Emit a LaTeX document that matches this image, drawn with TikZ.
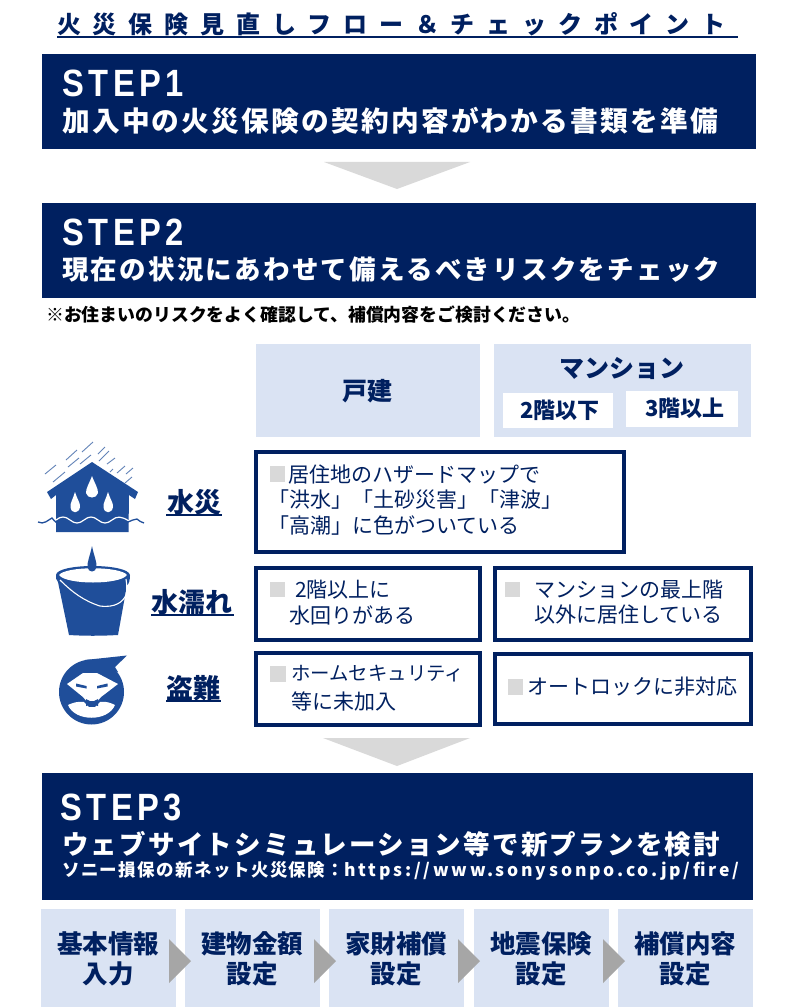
\documentclass[tikz,border=0pt]{standalone}
\usepackage{fontspec}
\setmainfont{Noto Sans CJK JP}
\newfontfamily\stepfont[FakeStretch=0.86]{Liberation Sans Bold}
\definecolor{navy}{HTML}{002060}
\definecolor{lblue}{HTML}{DAE3F3}
\definecolor{icon}{HTML}{1F4E9A}
\definecolor{arrgray}{HTML}{D9D9D9}
\definecolor{chevgray}{HTML}{A6A6A6}
\tikzset{
 banner/.style={fill=navy,draw=none},
 headbox/.style={fill=lblue,draw=none},
 whitebox/.style={fill=white,draw=none},
 checkbox/.style={draw=navy,line width=4pt,fill=white},
 tick/.style={fill=arrgray,draw=none},
 btxt/.style={text=white,anchor=west,inner sep=0pt,font=\bfseries},
 ntxt/.style={text=navy,anchor=west,inner sep=0pt},
 ctxt/.style={text=navy,anchor=center,inner sep=0pt,font=\bfseries},
 uline/.style={draw=navy,line width=2pt},
 iconfill/.style={fill=icon,draw=none},
 flowbox/.style={fill=lblue,draw=none},
 rain/.style={draw=icon!70,line width=0.9pt},
}
\newcommand{\sz}[1]{\fontsize{#1}{#1}\selectfont}
\newcommand{\tg}{\hspace{11.8pt}}
\begin{document}
\begin{tikzpicture}[x=1pt,y=-1pt]
\useasboundingbox (0,0) rectangle (793,1008);
\fill[white] (0,0) rectangle (793,1008);
% title
\node[ntxt,font=\bfseries\sz{24}] (title) at (57,24) {火\tg 災\tg 保\tg 険\tg 見\tg 直\tg し\tg フ\tg ロ\tg ー\tg ＆\tg チ\tg ェ\tg ッ\tg ク\tg ポ\tg イ\tg ン\tg ト};
\coordinate (tl) at (57,37); \coordinate (tr) at (738,37);
\draw[uline] (tl) -- (tr);
% step1
\fill[banner] (42,54) rectangle (756,149);
\node[btxt,font=\stepfont\sz{38}] (s1) at (62,83) {\addfontfeature{LetterSpace=12}STEP1};
\node[btxt,font=\bfseries\sz{27.7}] (s1b) at (62,121) {\addfontfeature{LetterSpace=8}加入中の火災保険の契約内容がわかる書類を準備};
\fill[arrgray] (324,162) -- (470,162) -- (397,189) -- cycle;
% step2
\fill[banner] (42,203) rectangle (756,298);
\node[btxt,font=\stepfont\sz{38}] (s2) at (62,232) {\addfontfeature{LetterSpace=12}STEP2};
\node[btxt,font=\bfseries\sz{26.5}] (s2b) at (62,270) {\addfontfeature{LetterSpace=8.5}現在の状況にあわせて備えるべきリスクをチェック};
\node[anchor=west,inner sep=0pt,text=black,font=\bfseries\sz{17.85}] (note) at (46,315) {※お住まいのリスクをよく確認して、補償内容をご検討ください。};
% heads
\fill[headbox] (256,344) rectangle (480,437);
\node[ctxt,font=\bfseries\sz{25}] (h1) at (367,391) {戸建};
\fill[headbox] (494,344) rectangle (751,437);
\node[ctxt,font=\bfseries\sz{25}] (h2) at (622,368) {マンション};
\fill[whitebox] (503,393) rectangle (613,428);
\node[ctxt,font=\bfseries\sz{22}] (h3) at (560,410) {2階以下};
\fill[whitebox] (626,391) rectangle (738,427);
\node[ctxt,font=\bfseries\sz{22}] (h4) at (685,408) {3階以上};
% boxes
\draw[checkbox] (256,451.5) rectangle (624,551.5);
\fill[tick] (270,466) rectangle (285,482);
\node[ntxt,font=\sz{21}] at (288,474.5) {居住地のハザードマップで};
\node[ntxt,font=\sz{21}] at (268,500) {「洪水」「土砂災害」「津波」};
\node[ntxt,font=\sz{21}] at (268,526) {「高潮」に色がついている};
\draw[checkbox] (256,568) rectangle (480,640);
\fill[tick] (270,582) rectangle (285,597);
\node[ntxt,font=\sz{21}] at (295,590) {2階以上に};
\node[ntxt,font=\sz{21}] at (289,615) {水回りがある};
\draw[checkbox] (495,568) rectangle (751,640);
\fill[tick] (505,582) rectangle (520,597);
\node[ntxt,font=\sz{21}] at (534,590) {マンションの最上階};
\node[ntxt,font=\sz{21}] at (534,615) {以外に居住している};
\draw[checkbox] (256,653) rectangle (480,725);
\fill[tick] (270,666) rectangle (286,682);
\node[ntxt,font=\sz{19.4}] at (291,674) {ホームセキュリティ};
\node[ntxt,font=\sz{21}] at (291,701) {等に未加入};
\draw[checkbox] (495,654) rectangle (751,724);
\fill[tick] (508,679) rectangle (523,695);
\node[ntxt,font=\sz{21}] at (527,687) {オートロックに非対応};
% labels
\node[ctxt,font=\bfseries\sz{27}] (l1) at (194,502) {水災};
\draw[uline] (166,515) -- (222,515);
\node[ctxt,font=\bfseries\sz{27}] (l2) at (192,602) {水濡れ};
\draw[uline] (151,615) -- (234,615);
\node[ctxt,font=\bfseries\sz{27}] (l3) at (193,688) {盗難};
\draw[uline] (166,701) -- (221,701);
% house icon
\draw[rain] (45,474)--(56,465) (53,482)--(65,472) (66,460)--(77,450) (68,467)--(79,458) (82,452)--(93,442) (80,464)--(91,455) (98,454)--(105,447) (99,461)--(109,451) (107,464)--(115,458) (117,473)--(125,466) (126,474)--(133,468) (110,472)--(113,469) (125,483)--(132,477);
\fill[iconfill] (92,462) -- (138,492) -- (135,499) -- (129,495) -- (128.5,532) -- (56,532) -- (56,495) -- (51,499) -- (47,492) -- cycle;
\draw[white,line width=1.2pt] (56,520) .. controls (61,516) and (65,516) .. (70,520) .. controls (75,524) and (79,524) .. (84,520) .. controls (89,516) and (93,516) .. (98,520) .. controls (103,524) and (107,524) .. (112,520) .. controls (117,516) and (121,516) .. (129,521);
\draw[icon,line width=1.3pt] (38,522) .. controls (44,525) and (48,520) .. (52,518) .. controls (53,519) and (55,522) .. (57,523);
\draw[icon,line width=1.3pt] (128,522) .. controls (131,521) and (134,519) .. (137,519) .. controls (139,520) and (141,523) .. (144,523);
\fill[white] (92,476) .. controls (89,484) and (86,488) .. (86,493) .. controls (87,499) and (97,499) .. (98,493) .. controls (98,488) and (95,484) .. (92,476) -- cycle;
\fill[white] (75,492) .. controls (73,499) and (70,503) .. (70.5,507) .. controls (71,514) and (79,514) .. (80,507) .. controls (80.5,503) and (77,499) .. (75,492) -- cycle;
\fill[white] (108,492) .. controls (106,499) and (103,503) .. (103.5,507) .. controls (104,514) and (112,514) .. (113,507) .. controls (113.5,503) and (110,499) .. (108,492) -- cycle;
% bucket icon
\fill[iconfill] (56,575) .. controls (57,563) and (128,563) .. (130,575) .. controls (130,580) and (129,584) .. (127,585) -- (118,635) .. controls (100,636) and (85,636) .. (69,635) -- (58,582) .. controls (56,580) and (56,578) .. (56,575) -- cycle;
\fill[white] (59,575) .. controls (66,566) and (120,566) .. (127,575) .. controls (120,585) and (66,585) .. (59,575) -- cycle;
\fill[iconfill] (92,546) .. controls (90,556) and (87,562) .. (87.5,567) .. controls (88,573) and (96,573) .. (96.5,567) .. controls (97,562) and (94,556) .. (92,546) -- cycle;
\draw[white,line width=1.1pt] (60,580) .. controls (72,592) and (84,601) .. (100,606) .. controls (115,608) and (123,602) .. (126,595) .. controls (127,590) and (127,585) .. (126,579);
% thief icon
\fill[iconfill] (91.5,692) circle (32.5);
\fill[iconfill] (85,660) -- (127,655.5) -- (115,667) -- (118,672) -- (105,668) -- cycle;
\fill[white] (67,684) -- (83,673) -- (97,673) -- (118,684) -- (101,697) -- (98,700.5) -- (92,701) -- (86,700.5) -- (83,697) -- cycle;
\fill[white] (68,705) .. controls (72,703) and (78,701) .. (84,702) -- (89,707) -- (95,707) -- (100,702) .. controls (106,701) and (111,703) .. (115,705) .. controls (108,722) and (75,722) .. (68,705) -- cycle;
\fill[iconfill] (76,683.5) -- (86.5,686) -- (86.5,688.5) -- (76,686.5) -- cycle;
\fill[iconfill] (97,686) -- (107.5,683.5) -- (107.5,686.5) -- (97,688.5) -- cycle;
\fill[iconfill] (86,699) -- (92,702) -- (98,699) -- (98,706) -- (92,704) -- (86,706) -- cycle;
% arrow 2
\fill[arrgray] (323,738) -- (470,738) -- (397,766) -- cycle;
% step3
\fill[banner] (42,773) rectangle (753,900);
\node[btxt,font=\stepfont\sz{38}] (s3) at (60,807) {\addfontfeature{LetterSpace=12}STEP3};
\node[btxt,font=\bfseries\sz{26.5}] (s3b) at (62,844) {\addfontfeature{LetterSpace=8.5}ウェブサイトシミュレーション等で新プランを検討};
\node[btxt,font=\bfseries\sz{17.5}] (s3c) at (62,871) {{\addfontfeature{LetterSpace=8}ソニー損保の新ネット火災保険：}{\addfontfeature{LetterSpace=16}https://www.sonysonpo.co.jp/fire/}};
% flow
\foreach \x/\a/\b in {41/基本情報/入力,185/建物金額/設定,329/家財補償/設定,474/地震保険/設定,618/補償内容/設定}{
 \fill[flowbox] (\x,909) rectangle ++(135,98);
 \node[ctxt,font=\bfseries\sz{25.5}] at (\x+67,944) {\a};
 \node[ctxt,font=\bfseries\sz{25.5}] at (\x+67,974) {\b};
}
\foreach \x in {169,314,458,603}{
 \fill[chevgray] (\x,939) -- (\x+22,961) -- (\x,983) -- cycle;
}
\end{tikzpicture}
\end{document}
